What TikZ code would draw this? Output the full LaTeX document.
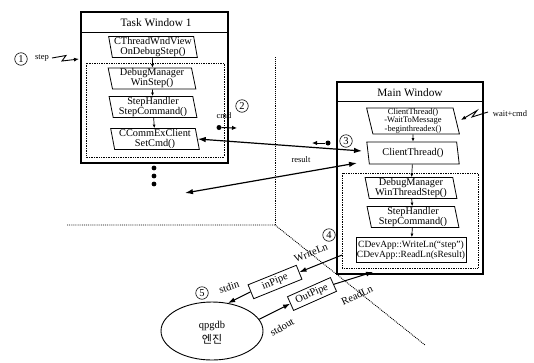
\documentclass[tikz,border=0pt]{standalone}
\usepackage{fontspec}
\setmainfont{Liberation Serif}
\newfontfamily\krfont{Noto Sans CJK KR}
\usetikzlibrary{shapes.geometric,arrows.meta}
\tikzset{
  pbox/.style={trapezium, trapezium left angle=100, trapezium right angle=80,
    trapezium stretches=true, draw, line width=0.8pt, minimum height=21pt,
    inner sep=0.5pt, align=center, font=\fontsize{10.3}{10}\selectfont},
  rbox/.style={rectangle, draw, line width=0.8pt, inner sep=1pt, align=center,
    font=\fontsize{9.5}{10}\selectfont},
  winbox/.style={rectangle, draw, line width=1.6pt, inner sep=0pt},
  wintitle/.style={font=\fontsize{11.3}{12}\selectfont},
  dotbox/.style={densely dotted, line width=0.7pt},
  divider/.style={densely dotted, line width=0.9pt},
  flow/.style={-{Latex[length=3.5pt,width=3pt]}, line width=0.7pt},
  bigarrow/.style={{Latex[length=8pt,width=5.5pt]}-{Latex[length=8pt,width=5.5pt]}, line width=1.2pt},
  onearrow/.style={-{Latex[length=7pt,width=5pt]}, line width=1pt},
  circnum/.style={circle, draw, line width=0.6pt, inner sep=0pt, minimum size=12.5pt,
    font=\fontsize{10.5}{10}\selectfont},
  small/.style={inner sep=0.5pt, font=\fontsize{8.5}{9}\selectfont},
  lbl/.style={inner sep=0.5pt, font=\fontsize{10.5}{11}\selectfont},
  pipe/.style={rectangle, draw, line width=0.8pt, inner sep=1pt, font=\fontsize{10.5}{11}\selectfont},
  bdot/.style={circle, fill, inner sep=0pt, minimum size=5pt},
}
\begin{document}
\begin{tikzpicture}[x=1pt,y=-1pt]
\useasboundingbox (0,0) rectangle (534,362);

% dividing dotted lines
\draw[divider] (275,57) -- (275,225);
\draw[divider] (67,225) -- (275,225) -- (425,345);

% ---------------- Task Window 1 ----------------
\node[winbox, minimum width=147pt, minimum height=151pt] (tw) at (154.5,87.5) {};
\draw[line width=0.8pt] ([yshift=-21pt]tw.north west) -- ([yshift=-21pt]tw.north east);
\node[wintitle] (twt) at (156,23) {Task Window 1};
\draw[dotbox] (86,63) rectangle (224,157);

\node[pbox, minimum width=89pt] (t1) at (153,47) {CThreadWndView\\OnDebugStep()};
\node[pbox, minimum width=88pt] (t2) at (152,78.5) {DebugManager\\WinStep()};
\node[pbox, minimum width=88pt] (t3) at (153,107) {StepHandler\\StepCommand()};
\node[pbox, minimum width=89pt] (t4) at (155,139) {CCommExClient\\SetCmd()};
\draw[flow] (t1) -- (t2);
\draw[flow] (t2) -- (t3);
\draw[flow] (t3) -- (t4);

\fill (154,168) circle (2.4pt);
\fill (154,176) circle (2.4pt);
\fill (154,184) circle (2.4pt);

% step input
\node[circnum] (n1) at (21,59) {1};
\node[small] (steplbl) at (42,58) {step};
\coordinate (stepa) at (52,58);
\coordinate (stepb) at (79,59);
\draw[-{Latex[length=5pt,width=4pt]}, line width=0.9pt] (stepa) -- (66,55.5) -- (62,61) -- (stepb);

% ---------------- Main Window ----------------
\node[winbox, minimum width=146pt, minimum height=192pt] (mw) at (410,178) {};
\draw[line width=0.8pt] ([yshift=-20pt]mw.north west) -- ([yshift=-20pt]mw.north east);
\node[wintitle] (mwt) at (410,92.5) {Main Window};
\draw[dotbox] (342,173) rectangle (478,268);

\node[pbox, minimum width=93pt, font=\fontsize{8.5}{7.2}\selectfont] (m1) at (413,121) {ClientThread()\\-WaitToMessage\\-beginthreadex()};
\node[pbox, minimum width=93pt, minimum height=22pt] (m2) at (413,153) {ClientThread()};
\node[pbox, minimum width=92pt] (m3) at (411,188) {DebugManager\\WinThreadStep()};
\node[pbox, minimum width=92pt] (m4) at (413,217) {StepHandler\\StepCommand()};
\node[rbox, minimum width=92pt, minimum height=25pt] (m5) at (411,250) {CDevApp::WriteLn(``step'')\\CDevApp::ReadLn(sResult)};
\draw[flow] (m1) -- (m2);
\draw[flow] (m2) -- (m3);
\draw[flow] (m3) -- (m4);
\draw[flow] (m4) -- (m5);

% wait+cmd
\node[small] (waitlbl) at (510,114) {wait+cmd};
\coordinate (waita) at (488,112);
\coordinate (waitb) at (461,120);
\draw[-{Latex[length=5pt,width=4pt]}, line width=0.9pt] (waita) -- (472,117) -- (477,110.5) -- (waitb);

% ---------------- inter-window arrows ----------------
\coordinate (upR) at (362,151);
\coordinate (loL) at (185,193);
\coordinate (loR) at (357,163);
\draw[bigarrow] (t4.east) -- (upR);
\draw[bigarrow] (loL) -- (loR);

\node[circnum] (n2) at (242,106) {2};
\node[small] (cmdlbl) at (224,116) {cmd};
\node[bdot] (cmddot) at (219,127.5) {};
\coordinate (cmdtip) at (237,128);
\draw[-{Latex[length=5pt,width=4.5pt]}, line width=1pt] (cmddot) -- (cmdtip);

\node[small] (reslbl) at (301,160) {result};
\node[bdot] (resdot) at (328,143) {};
\coordinate (restip) at (312,143);
\draw[-{Latex[length=5pt,width=4.5pt]}, line width=1pt] (resdot) -- (restip);

\node[circnum] (n3) at (346,141) {3};
\node[circnum] (n4) at (329,235) {4};

% ---------------- pipes and gdb ----------------
\node[pipe, rotate=22, minimum width=52pt, minimum height=15pt] (inp) at (275,282) {inPipe};
\node[pipe, rotate=24, minimum width=47pt, minimum height=15pt] (outp) at (312,294) {OutPipe};
\node[draw, ellipse, line width=0.9pt, minimum width=102pt, minimum height=58pt] (gdb) at (212,331) {};
\node[align=center, inner sep=0pt, font=\fontsize{10.5}{15}\selectfont] (gdbtxt) at (212,333) {qpgdb\\{\krfont\fontsize{11}{15}\selectfont 엔진}};

\coordinate (wlStart) at (342,255);
\coordinate (rlEnd) at (373,272);
\draw[onearrow] (wlStart) -- (inp.east);
\draw[onearrow] (inp.west) -- (gdb.60);
\draw[onearrow] (gdb.14) -- (outp.west);
\draw[onearrow] (outp.east) -- (rlEnd);

\node[lbl, rotate=22] (wl) at (311,253) {WriteLn};
\node[lbl, rotate=25] (rl) at (357,295) {ReadLn};
\node[lbl, rotate=18] (sin) at (229,287) {stdin};
\node[lbl, rotate=30] (sout) at (282,327) {stdout};
\node[circnum] (n5) at (202,293) {5};
\end{tikzpicture}
\end{document}
